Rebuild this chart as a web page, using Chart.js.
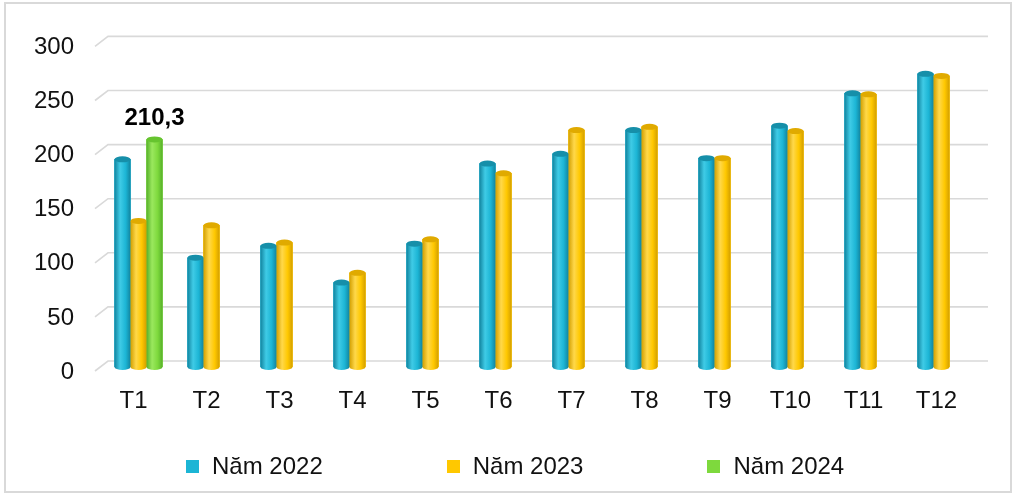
<!DOCTYPE html>
<html>
<head>
<meta charset="utf-8">
<script src="https://cdn.jsdelivr.net/npm/chart.js@4"></script>
<style>
  html, body { margin: 0; padding: 0; background: #fff; }
  #wrap { position: relative; width: 1018px; height: 499px; }
  #legend {
    position: absolute; left: 186px; top: 452px;
    display: flex; gap: 124px;
    font: 24px "Liberation Sans", Arial, sans-serif; color: #111;
  }
  #legend .item { display: flex; align-items: center; }
  #legend .box { width: 13px; height: 13px; margin-right: 13px; }
</style>
</head>
<body>
<div id="wrap">
  <canvas id="myChart" width="1018" height="499"></canvas>
  <div id="legend"></div>
</div>
<script>
const months = ['T1', 'T2', 'T3', 'T4', 'T5', 'T6', 'T7', 'T8', 'T9', 'T10', 'T11', 'T12'];
const y2022 = [192, 101, 112, 78, 114, 188, 197, 219, 193, 223, 253, 271];
const y2023 = [135, 131, 115, 87, 118, 179, 219, 222, 193, 218, 252, 269];
const y2024 = [210.3, null, null, null, null, null, null, null, null, null, null, null];
const yTicks = [0, 50, 100, 150, 200, 250, 300];

const FONT = '"Liberation Sans", Arial, sans-serif';

// main colour, dark edge, light highlight, top cap
const shades = [
    ['#1cb5d5', '#12849f', '#3fcbe6', '#168fa9'],
    ['#ffc800', '#d39f00', '#ffd84a', '#e0aa00'],
    ['#7ed93d', '#56b02a', '#9ae85e', '#66c42f']
];

// outer frame
const frame = {
    id: 'frame',
    beforeDraw(chart) {
        const c = chart.ctx;
        c.save();
        c.strokeStyle = '#d9d9d9';
        c.lineWidth = 2;
        c.strokeRect(5, 3, 1006, 489);
        c.restore();
    }
};

// gridlines with a small 3d wall look
const wallGrid = {
    id: 'wallGrid',
    beforeDatasetsDraw(chart) {
        const c = chart.ctx;
        const ca = chart.chartArea;
        const ys = chart.scales.y;
        c.save();
        c.strokeStyle = '#d9d9d9';
        c.lineWidth = 1.6;
        ys.ticks.forEach(t => {
            const p = ys.getPixelForValue(t.value);
            c.beginPath();
            c.moveTo(ca.left - 7, p + 4);
            c.lineTo(ca.left + 6, p - 6);
            c.lineTo(ca.right + 10, p - 6);
            c.stroke();
        });
        c.restore();
    }
};

// cylinder shading over the bars + value label
const cylinders = {
    id: 'cylinders',
    afterDatasetsDraw(chart) {
        const c = chart.ctx;
        chart.data.datasets.forEach((ds, di) => {
            const meta = chart.getDatasetMeta(di);
            const s = shades[di];
            meta.data.forEach((el, i) => {
                if (ds.data[i] == null) return;
                const {x, y, base, width} = el.getProps(['x', 'y', 'base', 'width'], true);
                const l = x - width / 2, r = x + width / 2, ry = 3;
                const g = c.createLinearGradient(l, 0, r, 0);
                g.addColorStop(0, s[1]);
                g.addColorStop(0.35, s[2]);
                g.addColorStop(0.7, s[0]);
                g.addColorStop(1, s[1]);
                c.save();
                c.fillStyle = g;
                c.beginPath();
                c.moveTo(l, y);
                c.lineTo(l, base);
                c.ellipse(x, base, width / 2, ry, 0, Math.PI, 0, true);
                c.lineTo(r, y);
                c.closePath();
                c.fill();
                c.fillStyle = s[3];
                c.beginPath();
                c.ellipse(x, y, width / 2, ry, 0, 0, Math.PI * 2);
                c.fill();
                c.restore();

                if (ds.valueLabel) {
                    c.save();
                    c.font = 'bold 24px ' + FONT;
                    c.fillStyle = '#000';
                    c.textAlign = 'center';
                    c.textBaseline = 'middle';
                    c.fillText(String(ds.data[i]).replace('.', ','), x, y - 21);
                    c.restore();
                }
            });
        });
    }
};

const ctx = document.getElementById('myChart');

const chart = new Chart(ctx, {
    type: 'bar',
    data: {
        labels: months,
        datasets: [
            { label: 'Năm 2022', data: y2022, backgroundColor: shades[0][0] },
            { label: 'Năm 2023', data: y2023, backgroundColor: shades[1][0] },
            { label: 'Năm 2024', data: y2024, backgroundColor: shades[2][0], valueLabel: true }
        ]
    },
    options: {
        responsive: false,
        animation: false,
        devicePixelRatio: 1,
        barThickness: 16,
        borderWidth: 0,
        layout: {
            padding: { top: 40, right: 40, bottom: 0, left: 0 }
        },
        plugins: {
            legend: { display: false },
            tooltip: { enabled: false }
        },
        scales: {
            x: {
                grid: { display: false, drawTicks: false },
                border: { display: false },
                ticks: {
                    padding: 20,
                    labelOffset: -5,
                    color: '#111',
                    font: { family: FONT, size: 24 }
                },
                afterFit(scale) { scale.height = 132; }
            },
            y: {
                min: 0,
                max: 300,
                afterBuildTicks(scale) { scale.ticks = yTicks.map(v => ({ value: v })); },
                grid: { display: false, drawTicks: false },
                border: { display: false },
                ticks: {
                    padding: 28,
                    labelOffset: 5,
                    color: '#111',
                    font: { family: FONT, size: 24 }
                },
                afterFit(scale) { scale.width = 102; }
            }
        }
    },
    plugins: [frame, wallGrid, cylinders]
});

// legend built from the datasets
const legend = document.getElementById('legend');
chart.data.datasets.forEach(ds => {
    const item = document.createElement('div');
    item.className = 'item';
    const box = document.createElement('span');
    box.className = 'box';
    box.style.background = ds.backgroundColor;
    const txt = document.createElement('span');
    txt.textContent = ds.label;
    item.appendChild(box);
    item.appendChild(txt);
    legend.appendChild(item);
});
</script>
</body>
</html>
